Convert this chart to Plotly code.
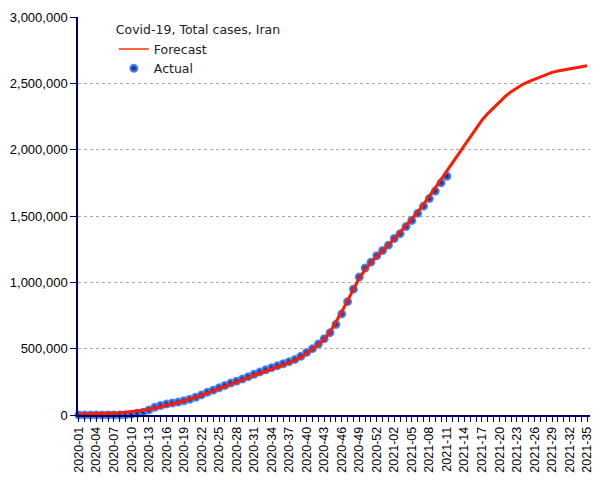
import plotly.graph_objects as go

weeks = [f"2020-{i:02d}" for i in range(1, 54)] + [f"2021-{i:02d}" for i in range(1, 36)]

actual = [0, 0, 0, 0, 0, 0, 0, 43, 978, 6566, 13938, 21638, 38309, 58226, 71686,
          82211, 90481, 97424, 107603, 118392, 133521, 151466, 171789, 187427,
          204952, 222669, 240438, 255117, 271606, 288839, 306752, 324692, 341070,
          356792, 371816, 386658, 402029, 419043, 443086, 471772, 500075, 534631,
          574856, 620491, 682486, 762068, 854361, 948749, 1040547, 1108269,
          1152072, 1200465, 1240000, 1280438, 1330411, 1367032, 1420000, 1466435,
          1520000, 1574012, 1631169, 1687000, 1750000, 1800000]

forecast = [5000, 6000, 7000, 8000, 10000, 12000, 14000, 17000, 20000, 24000,
            29000, 35000, 43000, 52000, 62000, 72000, 83000, 94000, 106000, 119000,
            133000, 148000, 164000, 180000, 197000, 214000, 231000, 248000, 265000,
            282000, 299000, 316000, 332000, 347000, 362000, 377000, 393000, 412000,
            436000, 465000, 497000, 530000, 572000, 625000, 698000, 778000, 862000,
            945000, 1030000, 1095000, 1150000, 1195000, 1238000, 1280000, 1328000,
            1378000, 1428000, 1478000, 1530000, 1588000, 1648000, 1710000, 1775000,
            1840000, 1905000, 1965000, 2030000, 2100000, 2165000, 2222000, 2272000,
            2318000, 2362000, 2402000, 2437000, 2467000, 2493000, 2513000, 2530000,
            2552000, 2570000, 2583000, 2593000, 2601000, 2609000, 2616000, 2624000,
            2632000]

y_ticks = [0, 500000, 1000000, 1500000, 2000000, 2500000, 3000000]
tick_text = [w if i % 3 == 0 else "" for i, w in enumerate(weeks)]

marker_style = dict(size=9, color="#5b9bff",
                    gradient=dict(type="radial", color="#061a85"),
                    line=dict(width=0))

fig = go.Figure()
# legend-only entries
fig.add_trace(go.Scatter(
    x=[None], y=[None], mode="lines", name="Forecast",
    line=dict(color="#ff3300", width=1.5), legendrank=1,
))
fig.add_trace(go.Scatter(
    x=[None], y=[None], mode="markers", name="Actual",
    marker=marker_style, legendrank=2,
))
fig.add_trace(go.Scatter(
    x=weeks[:len(actual)], y=actual, mode="markers", name="Actual",
    marker=marker_style, cliponaxis=False, showlegend=False,
))
fig.add_trace(go.Scatter(
    x=weeks, y=forecast, mode="lines", name="Forecast",
    line=dict(color="#ff1a00", width=3), cliponaxis=False, showlegend=False,
))

axis_col = "#000066"
fig.update_layout(
    width=605, height=480,
    margin=dict(l=78, r=15, t=17, b=65),
    paper_bgcolor="white", plot_bgcolor="white",
    showlegend=True,
    legend=dict(
        title=dict(text="Covid-19, Total cases, Iran", font=dict(size=12.5, family="DejaVu Sans", color="#222")),
        x=0.07, y=0.997, xanchor="left", yanchor="top",
        bgcolor="rgba(0,0,0,0)", font=dict(size=12.5, family="DejaVu Sans", color="#222"),
        itemwidth=30, tracegroupgap=0,
    ),
    font=dict(family="Liberation Sans, Arial", size=12, color="black"),
)
fig.update_xaxes(
    type="category", categoryorder="array", categoryarray=weeks,
    range=[-0.15, 87.5], automargin=False,
    tickmode="array", tickvals=weeks, ticktext=tick_text,
    tickangle=-90, ticks="outside", ticklen=5, tickcolor=axis_col,
    showline=True, linecolor=axis_col, linewidth=1.5,
    showgrid=False, tickfont=dict(size=12.5, color="black"),
)
fig.update_yaxes(
    range=[0, 3000000], tickvals=y_ticks, tickformat=",d", automargin=False,
    ticks="outside", ticklen=6, tickcolor=axis_col,
    showline=True, linecolor=axis_col, linewidth=1.5,
    showgrid=True, gridcolor="#aaaaaa", griddash="dot", gridwidth=1,
    zeroline=False, tickfont=dict(size=13, color="black"),
)

fig.write_html("out.html", config={"displayModeBar": False},
               post_script="document.body.style.margin='0';document.body.style.overflow='hidden';")
